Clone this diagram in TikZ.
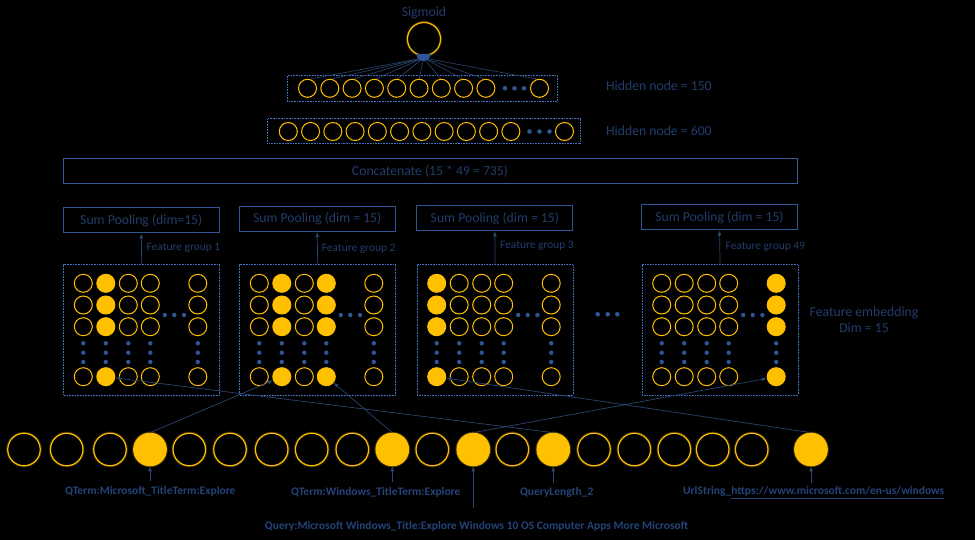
\documentclass[tikz,border=0pt]{standalone}
\usepackage{fontspec}
\setmainfont{Carlito}
\usetikzlibrary{arrows.meta}
\definecolor{gold}{HTML}{FFC000}
\definecolor{tblue}{HTML}{223D6B}
\definecolor{bblue}{HTML}{25437A}
\definecolor{lblue}{HTML}{2F5597}
\definecolor{dblue}{HTML}{4472C4}
\definecolor{cblue}{HTML}{2A4570}
\begin{document}
\begin{tikzpicture}[x=1pt,y=-1pt,
  ring/.style={circle, draw=gold, fill=black, line width=1pt, minimum size=18pt, inner sep=0pt},
  fring/.style={ring, fill=gold},
  bigring/.style={circle, draw=gold, fill=black, line width=1.2pt, minimum size=32.5pt, inner sep=0pt,
     preaction={draw=gold, draw opacity=0.22, line width=3.2pt}},
  bigfill/.style={bigring, fill=gold},
  dotbox/.style={draw=dblue, line width=0.8pt, dash pattern=on 0.8pt off 0.8pt, inner sep=0pt},
  pbox/.style={draw=lblue, line width=1pt, inner sep=0pt, text=tblue, font=\fontsize{13.7}{16}\selectfont},
  conn/.style={draw=cblue, line width=0.7pt, -{Latex[length=5pt,width=4pt]}},
  fan/.style={draw=cblue, line width=0.6pt},
  lbl/.style={text=tblue, font=\fontsize{13.7}{16}\selectfont, inner sep=0pt},
  glbl/.style={text=tblue, font=\fontsize{11.4}{13}\selectfont, inner sep=0pt, anchor=west},
  blbl/.style={text=bblue, font=\fontsize{11.5}{13}\bfseries\selectfont, inner sep=0pt}
]
\fill[black] (0,0) rectangle (975,540);
\useasboundingbox (0,0) rectangle (975,540);

% ---------- top: sigmoid ----------
\node[lbl] (sigtxt) at (424,13) {Sigmoid};
\node[bigring, minimum size=33pt] (sig) at (424,39) {};
\coordinate (blob) at (423.5,58);

% hidden 150
\node[dotbox, minimum width=270pt, minimum height=26pt, anchor=north west] (hbox1) at (287,75) {};
\foreach \i in {0,...,8} {
  \draw[fan] (blob) -- (307.5+22.3*\i,79.5);
}
\draw[fan] (blob) -- (539.5,79.5);
\foreach \i in {0,...,8} {
  \node[ring] (ha\i) at (307.5+22.3*\i,88.3) {};
}
\node[ring] (ha9) at (539.5,88.3) {};
\foreach \xx in {505,514.5,524} \fill[lblue] (\xx,88.3) circle[radius=2.3pt];
\fill[lblue] (416.5,54) arc[start angle=180, end angle=360, radius=7pt] -- cycle;
\node[lbl, anchor=west] (h150) at (606,86) {Hidden node = 150};

% hidden 600
\node[dotbox, minimum width=313pt, minimum height=25pt, anchor=north west] (hbox2) at (267,118.5) {};
\foreach \i in {0,...,10} {
  \node[ring] (hb\i) at (288.3+22.26*\i,131.5) {};
}
\node[ring] (hb11) at (564.5,131.5) {};
\foreach \xx in {529.5,539.5,549.5} \fill[lblue] (\xx,131.5) circle[radius=2.3pt];
\node[lbl, anchor=west] (h600) at (606,131) {Hidden node = 600};

% concatenate
\node[pbox, draw=dblue!80!black, minimum width=734pt, minimum height=25pt] (concat) at (430,171.5) {Concatenate (15 * 49 = 735)};

% ---------- sum pooling boxes ----------
\node[pbox, minimum width=156pt, minimum height=25pt] (p1) at (141.3,220.5) {Sum Pooling (dim=15)};
\node[pbox, minimum width=156pt, minimum height=25pt] (p2) at (317.2,219) {Sum Pooling (dim = 15)};
\node[pbox, minimum width=156pt, minimum height=25pt] (p3) at (494.9,218.3) {Sum Pooling (dim = 15)};
\node[pbox, minimum width=156pt, minimum height=25pt] (p4) at (719.5,217.5) {Sum Pooling (dim = 15)};

% ---------- grids ----------
\foreach \g/\L/\fa/\fb in {1/63.3/2/2, 2/239.3/2/4, 3/416.7/1/1, 4/641.7/5/5} {
  \node[dotbox, minimum width=156pt, minimum height=130pt, anchor=north west] (gb\g) at (\L,264.5) {};
  \foreach \c/\dx in {1/20,2/42.5,3/65,4/87,5/134.5} {
    \foreach \r/\yy in {1/283.3,2/305,3/326.7,4/376.7} {
      \ifnum\c=\fa\relax \def\st{fring}\else\ifnum\c=\fb\relax\def\st{fring}\else\def\st{ring}\fi\fi
      \node[\st] (g\g-\c-\r) at (\L+\dx,\yy) {};
    }
    \foreach \yy in {343.3,352.7,362} \fill[lblue] (\L+\dx,\yy) circle[radius=2.2pt];
  }
  \foreach \dx in {101.5,111,120.7} \fill[lblue] (\L+\dx,315) circle[radius=2.2pt];
  \draw[conn] (gb\g.north) -- (p\g.south);
}
\node[glbl] (fg1) at (146.5,248) {Feature group 1};
\node[glbl] (fg2) at (321.7,249) {Feature group 2};
\node[glbl] (fg3) at (500,246) {Feature group 3};
\node[glbl] (fg4) at (725.5,247) {Feature group 49};
\foreach \xx in {597.7,607.7,617.3} \fill[lblue] (\xx,314.3) circle[radius=2.3pt];
\node[lbl, align=center, font=\fontsize{13.7}{16.5}\selectfont] (femb) at (864,320) {Feature embedding\\Dim = 15};

% ---------- bottom row ----------
\foreach \i/\xx/\st in {1/24/bigring, 2/66.7/bigring, 3/110/bigring, 4/150/bigfill, 5/189.3/bigring,
  6/230/bigring, 7/271.7/bigring, 8/311.7/bigring, 9/352.3/bigring, 10/392.3/bigfill,
  11/432.3/bigring, 12/473.3/bigfill, 13/512.3/bigring, 14/553.3/bigfill, 15/594/bigring,
  16/634.3/bigring, 17/674.3/bigring, 18/712.7/bigring, 19/751.7/bigring, 20/811/bigfill} {
  \node[\st] (b\i) at (\xx,449.5) {};
}

% connectors from inputs to embeddings
\draw[conn] (b4.north) -- (g2-2-4);
\draw[conn] (b10.north) -- (g2-4-4);
\draw[conn] (b12.north) -- (g4-5-4);
\draw[conn] (b14.north) -- (g1-2-4);
\draw[conn] (b20.north) -- (g3-1-4);

% labels
\node[blbl] (l1) at (150.3,491) {QTerm:Microsoft\_TitleTerm:Explore};
\node[blbl] (l2) at (375.8,492.7) {QTerm:Windows\_TitleTerm:Explore};
\node[blbl] (l3) at (476.5,526) {Query:Microsoft Windows\_Title:Explore Windows 10 OS Computer Apps More Microsoft};
\node[blbl] (l4) at (556.7,492.7) {QueryLength\_2};
\node[blbl] (l5) at (813.7,492.7) {UrlString\_\underline{https://www.microsoft.com/en-us/windows}};
\coordinate (a1) at (150,480.5);
\coordinate (a2) at (392.3,481.5);
\coordinate (a3) at (473.3,508);
\coordinate (a4) at (553.3,483);
\coordinate (a5) at (811,483);
\draw[conn] (a1) -- (b4);
\draw[conn] (a2) -- (b10);
\draw[conn] (a3) -- (b12);
\draw[conn] (a4) -- (b14);
\draw[conn] (a5) -- (b20);
\end{tikzpicture}
\end{document}
